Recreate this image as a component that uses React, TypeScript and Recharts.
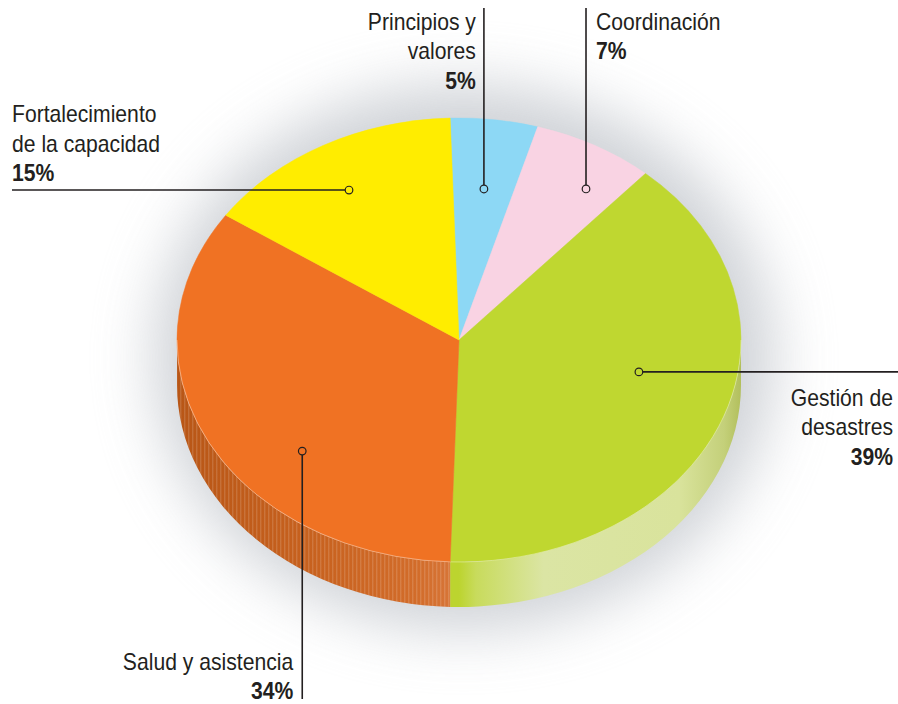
import React from 'react';
import { PieChart, Pie } from 'recharts';

// ---- data ----
const categories = [
  'Principios y valores',
  'Coordinación',
  'Gestión de desastres',
  'Salud y asistencia',
  'Fortalecimiento de la capacidad',
];
const labelLines = [
  ['Principios y', 'valores'],
  ['Coordinación'],
  ['Gestión de', 'desastres'],
  ['Salud y asistencia'],
  ['Fortalecimiento', 'de la capacidad'],
];
const shares = [5, 7, 39, 34, 15];
const percentLabels = ['5%', '7%', '39%', '34%', '15%'];
const colors = ['#8dd8f5', '#f9d3e3', '#bfd730', '#f07223', '#ffed00'];

const data = categories.map((name, i) => ({
  name,
  value: shares[i],
  color: colors[i],
  lines: labelLines[i],
  pct: percentLabels[i],
}));

// ---- layout / style ----
const W = 898;
const H = 704;
const CX = 459;
const CY = 340;
const R = 282;
const K = 222 / 282; // vertical flattening of the top face
const DEPTH = 45;
const START = 91.8;
const TEXT = '#231f20';
const FONT = "'Liberation Sans', Arial, sans-serif";
const LINE_H = 29.3;
const TEXT_SCALE = 0.92;

// leader placement per slice: angle offset from mid angle, radius fraction, direction
const LEADERS = [
  { da: -0.2, rf: 0.686, mode: 'up', anchor: 'end' },
  { da: -4.7, rf: 0.816, mode: 'up', anchor: 'start' },
  { da: 8.9, rf: 0.654, mode: 'right', anchor: 'end' },
  { da: 15, rf: 0.748, mode: 'down', anchor: 'end' },
  { da: 1.2, rf: 0.78, mode: 'left', anchor: 'start' },
];

const pt = (cx: number, cy: number, r: number, a: number): [number, number] => {
  const rad = (a * Math.PI) / 180;
  return [cx + r * Math.cos(rad), cy - r * K * Math.sin(rad)];
};
const f = (p: [number, number]) => `${p[0].toFixed(2)},${p[1].toFixed(2)}`;

const renderSlice = (props: any) => {
  const { cx, cy, outerRadius, startAngle, endAngle, index, payload } = props;
  const r = outerRadius;
  const ry = r * K;
  const hi = Math.max(startAngle, endAngle);
  const lo = Math.min(startAngle, endAngle);
  const p1 = pt(cx, cy, r, hi);
  const p2 = pt(cx, cy, r, lo);
  const large = hi - lo > 180 ? 1 : 0;
  const top = `M${cx},${cy} L${f(p1)} A${r},${ry} 0 ${large} 1 ${f(p2)} Z`;

  const sides: string[] = [];
  const edges: string[] = [];
  for (let n = -2; n <= 1; n++) {
    const a = -180 + 360 * n;
    const b = 360 * n;
    const b1 = Math.min(hi, b);
    const b2 = Math.max(lo, a);
    if (b1 - b2 > 0.01) {
      const q1 = pt(cx, cy, r, b1);
      const q2 = pt(cx, cy, r, b2);
      sides.push(
        `M${f(q1)} A${r},${ry} 0 0 1 ${f(q2)} L${q2[0].toFixed(2)},${(q2[1] + DEPTH).toFixed(2)} A${r},${ry} 0 0 0 ${q1[0].toFixed(2)},${(q1[1] + DEPTH).toFixed(2)} Z`
      );
      edges.push(`M${f(q1)} A${r},${ry} 0 0 1 ${f(q2)}`);
    }
  }
  const gid = `side-grad-${index}`;
  const pid = `side-pat-${index}`;
  const isGreen = payload.color === '#bfd730';
  return (
    <g>
      <defs>
        <linearGradient id={`${gid}`} gradientUnits="userSpaceOnUse" x1={isGreen ? cx : cx - r} y1={0} x2={isGreen ? cx + r : cx} y2={0}>
          {isGreen ? (
            <>
              <stop offset="0" stopColor="#bcd42f" />
              <stop offset="0.06" stopColor="#c8db5c" />
              <stop offset="0.3" stopColor="#dbe5a4" />
              <stop offset="0.78" stopColor="#d9e39c" />
              <stop offset="0.94" stopColor="#c4d07a" />
              <stop offset="1" stopColor="#b2bf5c" />
            </>
          ) : (
            <>
              <stop offset="0" stopColor="#b85616" />
              <stop offset="0.5" stopColor="#c8621f" />
              <stop offset="0.85" stopColor="#d26c2a" />
              <stop offset="1" stopColor="#d8773a" />
            </>
          )}
        </linearGradient>
        <pattern id={pid} patternUnits="userSpaceOnUse" width={4} height={10}>
          <rect x={0} y={0} width={1.4} height={10} fill="#ffffff" fillOpacity={0.14} />
        </pattern>
      </defs>
      {sides.map((d, i) => (
        <g key={i}>
          <path d={d} fill={`url(#${gid})`} />
          {!isGreen && <path d={d} fill={`url(#${pid})`} />}
        </g>
      ))}
      <path d={top} fill={payload.color} stroke={payload.color} strokeWidth={0.5} />
      {edges.map((d, i) => (
        <path key={`e${i}`} d={d} fill="none" stroke="#ffffff" strokeOpacity={0.35} strokeWidth={1} />
      ))}
    </g>
  );
};

const renderLeader = (props: any) => {
  const { cx, cy, outerRadius, midAngle, index, payload } = props;
  const L = LEADERS[index];
  const [dx, dy] = pt(cx, cy, outerRadius * L.rf, midAngle + L.da);
  const lines: string[] = payload.lines;
  const n = lines.length + 1;
  let x1 = dx, y1 = dy, x2 = dx, y2 = dy, tx = 0, firstBase = 0;
  const dotR = 3.8;
  if (L.mode === 'up') {
    x1 = dx; y1 = 8; x2 = dx; y2 = dy - dotR;
    tx = L.anchor === 'end' ? dx - 8 : dx + 10;
    firstBase = 30;
  } else if (L.mode === 'down') {
    x1 = dx; y1 = dy + dotR; x2 = dx; y2 = 699;
    tx = dx - 9;
    firstBase = 699 - (n - 1) * LINE_H;
  } else if (L.mode === 'right') {
    x1 = dx + dotR; y1 = dy; x2 = W; y2 = dy;
    tx = 893;
    firstBase = dy + 34;
  } else {
    x1 = 12; y1 = dy; x2 = dx - dotR; y2 = dy;
    tx = 12;
    firstBase = dy - 9 - (n - 1) * LINE_H;
  }
  const all = [...lines, payload.pct];
  return (
    <g>
      <line x1={x1} y1={y1} x2={x2} y2={y2} stroke={TEXT} strokeWidth={1.6} />
      <circle cx={dx} cy={dy} r={dotR} fill={payload.color} stroke={TEXT} strokeWidth={1.2} />
      {all.map((t, i) => (
        <g key={i} transform={`translate(${tx},${firstBase + i * LINE_H}) scale(${TEXT_SCALE},1)`}>
          <text
            x={0}
            y={0}
            textAnchor={L.anchor}
            fill={TEXT}
            fontFamily={FONT}
            fontSize={23}
            fontWeight={i === all.length - 1 ? 700 : 400}
          >
            {t}
          </text>
        </g>
      ))}
    </g>
  );
};

export default function App() {
  return (
    <div
      style={{
        position: 'absolute',
        left: 0,
        top: 0,
        width: W,
        height: H,
        background: '#ffffff',
        overflow: 'hidden',
      }}
    >
      <div
        style={{
          position: 'absolute',
          left: CX - 305,
          top: CY - 255,
          width: 620,
          height: 545,
          borderRadius: '50%',
          background: '#c3c7cd',
          filter: 'blur(30px)',
          opacity: 0.8,
        }}
      />
      <div style={{ position: 'absolute', left: 0, top: 0 }}>
        <PieChart width={W} height={H} margin={{ top: 0, right: 0, bottom: 0, left: 0 }}>
          <Pie
            data={data}
            dataKey="value"
            nameKey="name"
            cx={CX}
            cy={CY}
            outerRadius={R}
            startAngle={START}
            endAngle={START - 360}
            fill="transparent"
            stroke="none"
            label={renderSlice}
            labelLine={false}
            isAnimationActive={false}
          />
          <Pie
            data={data}
            dataKey="value"
            nameKey="name"
            cx={CX}
            cy={CY}
            outerRadius={R}
            startAngle={START}
            endAngle={START - 360}
            fill="transparent"
            stroke="none"
            label={renderLeader}
            labelLine={false}
            isAnimationActive={false}
          />
        </PieChart>
      </div>
    </div>
  );
}
